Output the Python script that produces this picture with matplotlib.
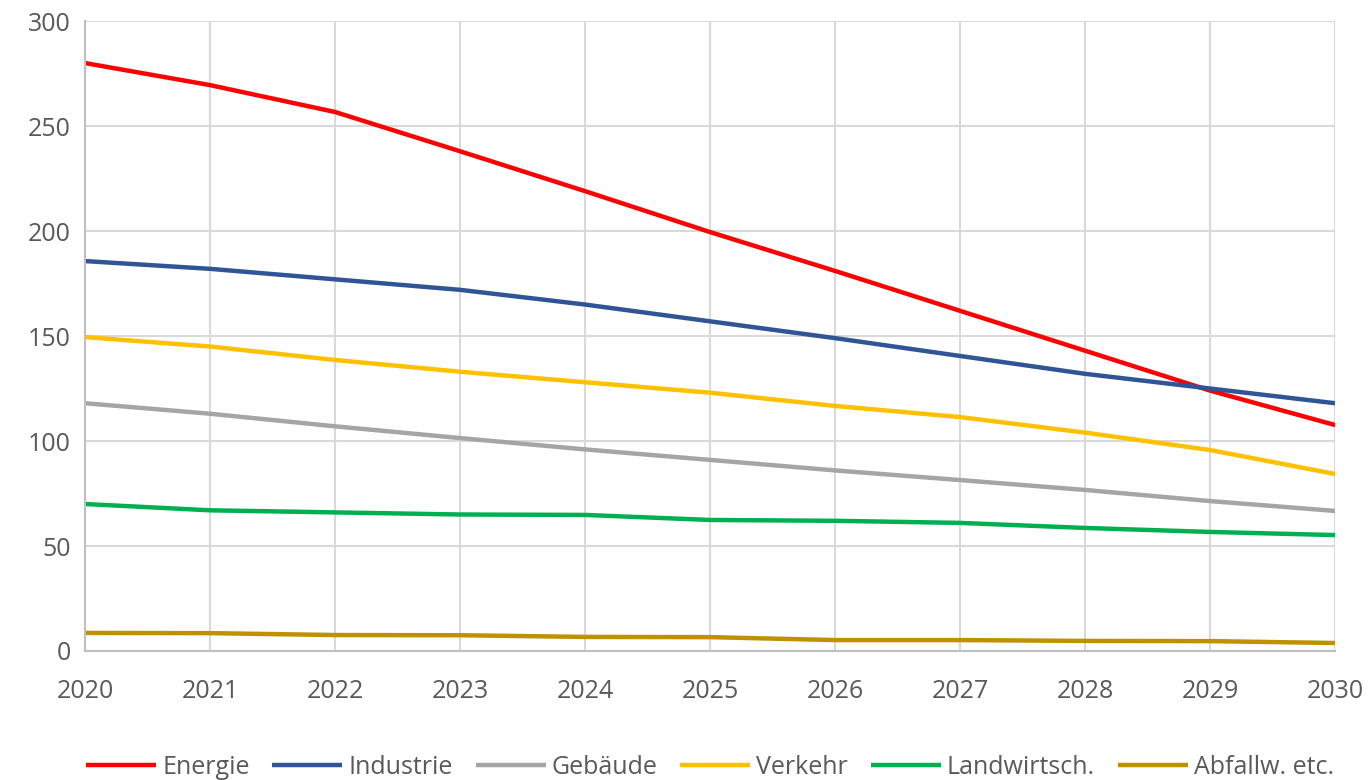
import matplotlib
matplotlib.use("Agg")
import matplotlib.pyplot as plt

# values
years = [2020, 2021, 2022, 2023, 2024, 2025, 2026, 2027, 2028, 2029, 2030]
energie = [280, 269.5, 256.7, 238, 219, 199.5, 181, 162, 143, 124, 107.6]
industrie = [185.7, 182, 177, 172, 165, 157, 149, 140.5, 132, 125, 118]
gebaeude = [118, 113, 107, 101.4, 96, 91, 86, 81.4, 76.7, 71.4, 66.7]
verkehr = [149.5, 145, 138.6, 133, 128, 123, 116.7, 111.4, 104, 95.7, 84.3]
landwirtschaft = [70, 67, 66, 65, 64.8, 62.4, 62, 61, 58.6, 56.7, 55.2]
abfall = [8.6, 8.5, 7.6, 7.5, 6.7, 6.6, 5.2, 5.2, 4.8, 4.7, 3.8]

series = [
    ("Energie", energie, "#ff0000"),
    ("Industrie", industrie, "#2f5597"),
    ("Gebäude", gebaeude, "#a5a5a5"),
    ("Verkehr", verkehr, "#ffc000"),
    ("Landwirtsch.", landwirtschaft, "#00b050"),
    ("Abfallw. etc.", abfall, "#bf9000"),
]

plt.rcParams['font.family'] = ['Open Sans', 'DejaVu Sans']

fig = plt.figure(figsize=(13.7, 7.8), dpi=100)
ax = fig.add_axes([0.062, 0.1654, 0.9125, 0.8076])

for name, vals, col in series:
    ax.plot(years, vals, color=col, linewidth=3.2, label=name, solid_capstyle='butt')

ax.set_xlim(2020, 2030)
ax.set_ylim(0, 300)
ax.set_xticks(years)
ax.set_yticks(range(0, 301, 50))
ax.grid(True, color="#d9d9d9", linewidth=1.5)
ax.set_axisbelow(True)
for s in ['top', 'right']:
    ax.spines[s].set_visible(False)
for s in ['left', 'bottom']:
    ax.spines[s].set_color("#bfbfbf")
    ax.spines[s].set_linewidth(1.5)
ax.tick_params(length=0, labelsize=18, colors="#595959", pad=10)
ax.tick_params(axis='x', pad=20)

ax.legend(loc='lower center', bbox_to_anchor=(0.5, -0.24), ncol=6, frameon=False,
          fontsize=18, labelcolor="#595959", handlelength=2.8, handletextpad=0.25,
          columnspacing=0.9)

fig.savefig("out.png", dpi=100)
